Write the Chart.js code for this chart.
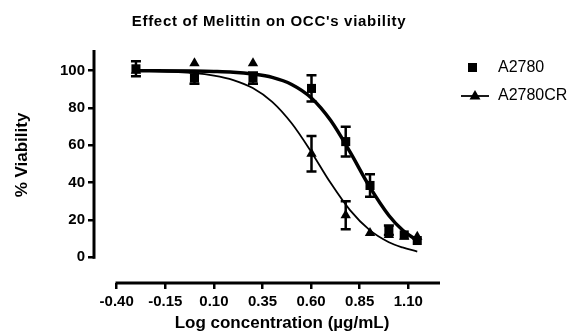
<!DOCTYPE html>
<html>
<head>
<meta charset="utf-8">
<script src="https://cdn.jsdelivr.net/npm/chart.js@4.4.1/dist/chart.umd.min.js"></script>
<style>
  html, body { margin: 0; padding: 0; background: #fff; }
</style>
</head>
<body>
<canvas id="chart" width="582" height="333"></canvas>
<script>
// log10 of concentration (0.5 .. 14 ug/mL)
const logConc = [-0.301, 0, 0.301, 0.602, 0.778, 0.903, 1.0, 1.079, 1.146];
const a2780Mean = [101, 96, 96, 90.5, 62, 38.5, 14.5, 12, 9];
const a2780Err = [4, 3, 3, 7, 8, 6, 2.5, 0, 0];
const a2780crMean = [100, 104, 104, 55.5, 22.5, 13, 12, 11, 11];
const a2780crErr = [0, 0, 0, 9.5, 7.5, 0, 0, 0, 0];

// fitted curves
const fitX = [-0.301, 0, 0.1, 0.2, 0.3, 0.4, 0.5, 0.6, 0.7, 0.8, 0.9, 1.0, 1.07, 1.146];
const a2780Fit = [100, 99.8, 99.6, 99.2, 98.2, 96.4, 92.6, 85.5, 73.4, 56.5, 38, 22.4, 14.6, 9];
const a2780crFit = [100, 98.7, 97.4, 95, 90.7, 83.3, 71.8, 56.6, 39.9, 25.3, 14.7, 8.1, 5.3, 3.1];

const xTicks = [-0.40, -0.15, 0.10, 0.35, 0.60, 0.85, 1.10];
const xTickLabels = ["-0.40", "-0.15", "0.10", "0.35", "0.60", "0.85", "1.10"];
const yTicks = [0, 20, 40, 60, 80, 100];

const FONT = "'Liberation Sans', Arial, Helvetica, sans-serif";

function pts(xs, ys) {
  return xs.map((x, i) => ({ x: x, y: ys[i] }));
}

const decorations = {
  id: "decorations",
  beforeDatasetsDraw(chart) {
    const ctx = chart.ctx;
    const xs = chart.scales.x;
    const ys = chart.scales.y;
    ctx.save();
    ctx.strokeStyle = "#000";
    ctx.lineWidth = 3;
    ctx.lineCap = "butt";
    // y axis
    ctx.beginPath();
    ctx.moveTo(xs.left, ys.top);
    ctx.lineTo(xs.left, ys.getPixelForValue(0) + 1.5);
    ctx.stroke();
    // x axis
    ctx.beginPath();
    ctx.moveTo(xs.getPixelForValue(xTicks[0]) - 1.2, ys.bottom);
    ctx.lineTo(xs.right, ys.bottom);
    ctx.stroke();

    // error bars
    ctx.lineWidth = 2.5;
    const bars = [[a2780Mean, a2780Err], [a2780crMean, a2780crErr]];
    bars.forEach(([mean, err]) => {
      logConc.forEach((lx, i) => {
        if (!err[i]) return;
        const px = xs.getPixelForValue(lx);
        const top = ys.getPixelForValue(mean[i] + err[i]);
        const bot = ys.getPixelForValue(mean[i] - err[i]);
        ctx.beginPath();
        ctx.moveTo(px, top);
        ctx.lineTo(px, bot);
        ctx.moveTo(px - 5, top);
        ctx.lineTo(px + 5, top);
        ctx.moveTo(px - 5, bot);
        ctx.lineTo(px + 5, bot);
        ctx.stroke();
      });
    });
    ctx.restore();
  },
  afterDraw(chart) {
    const ctx = chart.ctx;
    ctx.save();
    ctx.fillStyle = "#000";
    ctx.strokeStyle = "#000";

    // title
    ctx.font = "bold 15px " + FONT;
    if ("letterSpacing" in ctx) ctx.letterSpacing = "0.7px";
    ctx.textAlign = "center";
    ctx.textBaseline = "alphabetic";
    ctx.fillText("Effect of Melittin on OCC's viability", 269, 26);
    if ("letterSpacing" in ctx) ctx.letterSpacing = "0px";

    // axis titles
    ctx.font = "bold 17px " + FONT;
    ctx.fillText("Log concentration (\u00b5g/mL)", 282, 328);
    ctx.save();
    ctx.translate(27, 155);
    ctx.rotate(-Math.PI / 2);
    ctx.fillText("% Viability", 0, 0);
    ctx.restore();

    // legend
    ctx.font = "16px " + FONT;
    ctx.textAlign = "left";
    ctx.textBaseline = "middle";
    ctx.fillRect(468, 63, 9, 9);
    ctx.fillText("A2780", 498, 68);
    ctx.lineWidth = 1.8;
    ctx.beginPath();
    ctx.moveTo(461, 96);
    ctx.lineTo(489, 96);
    ctx.stroke();
    ctx.beginPath();
    ctx.moveTo(475, 90);
    ctx.lineTo(480.5, 99.5);
    ctx.lineTo(469.5, 99.5);
    ctx.closePath();
    ctx.fill();
    ctx.fillText("A2780CR", 498, 96);
    ctx.restore();
  }
};

const tickFont = { family: FONT, size: 15, weight: "bold" };

new Chart(document.getElementById("chart").getContext("2d"), {
  type: "scatter",
  data: {
    datasets: [
      {
        label: "A2780 fit",
        data: pts(fitX, a2780Fit),
        showLine: true,
        borderColor: "#000",
        borderWidth: 3.5,
        pointRadius: 0,
        cubicInterpolationMode: "monotone"
      },
      {
        label: "A2780CR fit",
        data: pts(fitX, a2780crFit),
        showLine: true,
        borderColor: "#000",
        borderWidth: 1.8,
        pointRadius: 0,
        cubicInterpolationMode: "monotone"
      },
      {
        label: "A2780",
        data: pts(logConc, a2780Mean),
        pointStyle: "rect",
        pointRadius: 6.4,
        backgroundColor: "#000",
        borderColor: "#000",
        borderWidth: 0
      },
      {
        label: "A2780CR",
        data: pts(logConc, a2780crMean),
        pointStyle: "triangle",
        pointRadius: 6,
        backgroundColor: "#000",
        borderColor: "#000",
        borderWidth: 0
      }
    ]
  },
  options: {
    responsive: false,
    animation: false,
    devicePixelRatio: 1,
    layout: { padding: { left: 24, right: 142, top: 50, bottom: 5 } },
    plugins: {
      legend: { display: false },
      tooltip: { enabled: false }
    },
    scales: {
      x: {
        type: "linear",
        min: -0.5168,
        max: 1.263,
        afterBuildTicks: s => { s.ticks = xTicks.map(v => ({ value: v })); },
        afterFit: s => { s.height = 45; },
        grid: { display: true, drawOnChartArea: false, drawTicks: true, tickLength: 6, lineWidth: 2.5, color: "#000" },
        border: { display: false },
        ticks: {
          color: "#000",
          font: tickFont,
          padding: 4,
          autoSkip: false,
          maxRotation: 0,
          callback: (v, i) => xTickLabels[i]
        }
      },
      y: {
        type: "linear",
        min: -13.77,
        max: 111.09,
        afterBuildTicks: s => { s.ticks = yTicks.map(v => ({ value: v })); },
        afterFit: s => { s.width = 70; },
        grid: { display: true, drawOnChartArea: false, drawTicks: true, tickLength: 6, lineWidth: 2.5, color: "#000" },
        border: { display: false },
        ticks: {
          color: "#000",
          font: tickFont,
          padding: 3,
          autoSkip: false,
          callback: (v, i) => String(yTicks[i])
        }
      }
    }
  },
  plugins: [decorations]
});
</script>
</body>
</html>
